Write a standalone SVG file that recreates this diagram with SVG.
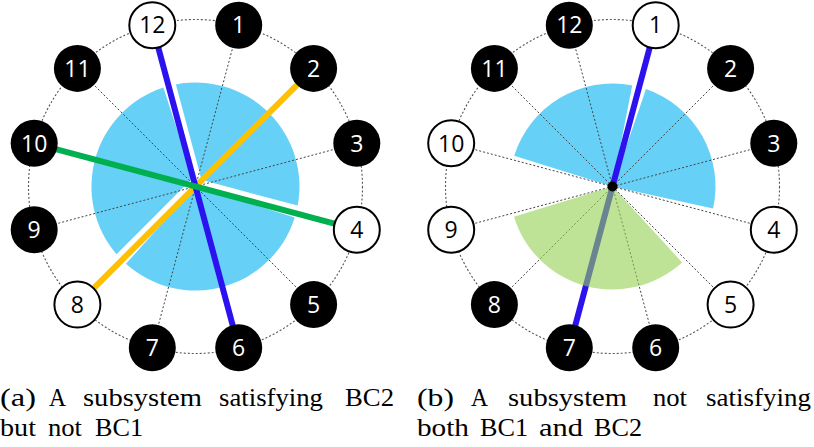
<svg xmlns="http://www.w3.org/2000/svg" width="814" height="447" viewBox="0 0 814 447">
<style>
.ring{fill:none;stroke:#555;stroke-width:1.1;stroke-dasharray:2 2}
.spoke{stroke:#444;stroke-width:1;stroke-dasharray:2 2}
.sky{fill:#00b0f0;fill-opacity:0.6}
.lg{fill:#92d050;fill-opacity:0.6}
.ln{stroke-width:6;fill:none}
.blue{stroke:#2d12f0}
.gold{stroke:#ffc000}
.grn{stroke:#00b050}
.nb circle{fill:#000}
.nw circle{fill:#fff;stroke:#000;stroke-width:2}
.nb text,.nw text{font-family:"Open Sans","Noto Sans",sans-serif;font-size:23px;text-anchor:middle}
.nb text{fill:#fff}
.nw text{fill:#000}
.cap{font-family:"Liberation Serif","Times New Roman",serif;font-size:26px;fill:#000}
</style>

<!-- Left diagram: sectors -->
<g id="left-sectors">
<path class="sky" d="M201.5,179.8 L175.9,84.4 A104,104 0 0 1 297.7,205.6 Z"/>
<path class="sky" d="M195.5,186.5 L294.7,217.6 A104,104 0 0 1 125.9,263.8 Z"/>
<path class="sky" d="M192.7,178.0 L116.5,254.2 A104,104 0 0 1 163.4,87.6 Z"/>
</g>

<!-- Right diagram: blue sectors -->
<g id="right-sectors">
<path class="sky" d="M612.5,186.5 L514.2,155.7 A103,103 0 0 1 632.2,85.4 Z"/>
<path class="sky" d="M612.5,186.5 L646.0,89.1 A103,103 0 0 1 713.1,208.6 Z"/>
</g>

<g id="connectors">
<!-- rings -->
<circle class="ring" cx="195.5" cy="186.5" r="167"/>
<circle class="ring" cx="612.5" cy="186.5" r="167"/>
<!-- left spokes -->
<g transform="translate(195.5,186.5)">
<line class="spoke" x1="0" y1="0" x2="-43.2" y2="-161.3"/>
<line class="spoke" x1="0" y1="0" x2="43.2" y2="-161.3"/>
<line class="spoke" x1="0" y1="0" x2="118.1" y2="-118.1"/>
<line class="spoke" x1="0" y1="0" x2="161.3" y2="-43.2"/>
<line class="spoke" x1="0" y1="0" x2="161.3" y2="43.2"/>
<line class="spoke" x1="0" y1="0" x2="118.1" y2="118.1"/>
<line class="spoke" x1="0" y1="0" x2="43.2" y2="161.3"/>
<line class="spoke" x1="0" y1="0" x2="-43.2" y2="161.3"/>
<line class="spoke" x1="0" y1="0" x2="-118.1" y2="118.1"/>
<line class="spoke" x1="0" y1="0" x2="-161.3" y2="43.2"/>
<line class="spoke" x1="0" y1="0" x2="-161.3" y2="-43.2"/>
<line class="spoke" x1="0" y1="0" x2="-118.1" y2="-118.1"/>
</g>
<!-- right spokes -->
<g transform="translate(612.5,186.5)">
<line class="spoke" x1="0" y1="0" x2="-43.2" y2="-161.3"/>
<line class="spoke" x1="0" y1="0" x2="43.2" y2="-161.3"/>
<line class="spoke" x1="0" y1="0" x2="118.1" y2="-118.1"/>
<line class="spoke" x1="0" y1="0" x2="161.3" y2="-43.2"/>
<line class="spoke" x1="0" y1="0" x2="161.3" y2="43.2"/>
<line class="spoke" x1="0" y1="0" x2="118.1" y2="118.1"/>
<line class="spoke" x1="0" y1="0" x2="43.2" y2="161.3"/>
<line class="spoke" x1="0" y1="0" x2="-43.2" y2="161.3"/>
<line class="spoke" x1="0" y1="0" x2="-118.1" y2="118.1"/>
<line class="spoke" x1="0" y1="0" x2="-161.3" y2="43.2"/>
<line class="spoke" x1="0" y1="0" x2="-161.3" y2="-43.2"/>
<line class="spoke" x1="0" y1="0" x2="-118.1" y2="-118.1"/>
</g>
<!-- left coloured chords -->
<line class="ln gold" x1="313.6" y1="68.4" x2="77.4" y2="304.6"/>
<line class="ln blue" x1="152.3" y1="25.2" x2="238.7" y2="347.8"/>
<line class="ln grn" x1="34.2" y1="143.3" x2="356.8" y2="229.7"/>
<!-- right chord -->
<line class="ln blue" x1="655.7" y1="25.2" x2="569.3" y2="347.8"/>
</g>

<!-- Right diagram: green sector over the chord -->
<g id="right-green-sector">
<path class="lg" d="M612.5,186.5 L682.1,262.4 A103,103 0 0 1 514.0,216.8 Z"/>
</g>
<g id="right-center">
<circle cx="612.5" cy="186.5" r="5" fill="#000"/>
</g>

<!-- Left nodes -->
<g id="a-n12" class="nw"><circle cx="152.3" cy="25.2" r="23"/><text x="152.3" y="33.4">12</text></g>
<g id="a-n1" class="nb"><circle cx="238.7" cy="25.2" r="23.5"/><text x="238.7" y="33.4">1</text></g>
<g id="a-n2" class="nb"><circle cx="313.6" cy="68.4" r="23.5"/><text x="313.6" y="76.6">2</text></g>
<g id="a-n3" class="nb"><circle cx="356.8" cy="143.3" r="23.5"/><text x="356.8" y="151.5">3</text></g>
<g id="a-n4" class="nw"><circle cx="356.8" cy="229.7" r="23"/><text x="356.8" y="237.9">4</text></g>
<g id="a-n5" class="nb"><circle cx="313.6" cy="304.6" r="23.5"/><text x="313.6" y="312.8">5</text></g>
<g id="a-n6" class="nb"><circle cx="238.7" cy="347.8" r="23.5"/><text x="238.7" y="356">6</text></g>
<g id="a-n7" class="nb"><circle cx="152.3" cy="347.8" r="23.5"/><text x="152.3" y="356">7</text></g>
<g id="a-n8" class="nw"><circle cx="77.4" cy="304.6" r="23"/><text x="77.4" y="312.8">8</text></g>
<g id="a-n9" class="nb"><circle cx="34.2" cy="229.7" r="23.5"/><text x="34.2" y="237.9">9</text></g>
<g id="a-n10" class="nb"><circle cx="34.2" cy="143.3" r="23.5"/><text x="34.2" y="151.5">10</text></g>
<g id="a-n11" class="nb"><circle cx="77.4" cy="68.4" r="23.5"/><text x="77.4" y="76.6">11</text></g>

<!-- Right nodes -->
<g id="b-n12" class="nb"><circle cx="569.3" cy="25.2" r="23.5"/><text x="569.3" y="33.4">12</text></g>
<g id="b-n1" class="nw"><circle cx="655.7" cy="25.2" r="23"/><text x="655.7" y="33.4">1</text></g>
<g id="b-n2" class="nb"><circle cx="730.6" cy="68.4" r="23.5"/><text x="730.6" y="76.6">2</text></g>
<g id="b-n3" class="nb"><circle cx="773.8" cy="143.3" r="23.5"/><text x="773.8" y="151.5">3</text></g>
<g id="b-n4" class="nw"><circle cx="773.8" cy="229.7" r="23"/><text x="773.8" y="237.9">4</text></g>
<g id="b-n5" class="nw"><circle cx="730.6" cy="304.6" r="23"/><text x="730.6" y="312.8">5</text></g>
<g id="b-n6" class="nb"><circle cx="655.7" cy="347.8" r="23.5"/><text x="655.7" y="356">6</text></g>
<g id="b-n7" class="nb"><circle cx="569.3" cy="347.8" r="23.5"/><text x="569.3" y="356">7</text></g>
<g id="b-n8" class="nb"><circle cx="494.4" cy="304.6" r="23.5"/><text x="494.4" y="312.8">8</text></g>
<g id="b-n9" class="nw"><circle cx="451.2" cy="229.7" r="23"/><text x="451.2" y="237.9">9</text></g>
<g id="b-n10" class="nw"><circle cx="451.2" cy="143.3" r="23"/><text x="451.2" y="151.5">10</text></g>
<g id="b-n11" class="nb"><circle cx="494.4" cy="68.4" r="23.5"/><text x="494.4" y="76.6">11</text></g>

<!-- Captions -->
<g id="caption-a" class="cap">
<text x="0" y="406" textLength="36" lengthAdjust="spacingAndGlyphs">(a)</text>
<text x="49" y="406" textLength="17" lengthAdjust="spacingAndGlyphs">A</text>
<text x="83" y="406" textLength="119" lengthAdjust="spacingAndGlyphs">subsystem</text>
<text x="219" y="406" textLength="104" lengthAdjust="spacingAndGlyphs">satisfying</text>
<text x="345" y="406" textLength="49" lengthAdjust="spacingAndGlyphs">BC2</text>
<text x="0" y="436" textLength="36" lengthAdjust="spacingAndGlyphs">but</text>
<text x="48" y="436" textLength="34" lengthAdjust="spacingAndGlyphs">not</text>
<text x="95" y="436" textLength="48" lengthAdjust="spacingAndGlyphs">BC1</text>
</g>
<g id="caption-b" class="cap">
<text x="417" y="406" textLength="37" lengthAdjust="spacingAndGlyphs">(b)</text>
<text x="471" y="406" textLength="17" lengthAdjust="spacingAndGlyphs">A</text>
<text x="508" y="406" textLength="119" lengthAdjust="spacingAndGlyphs">subsystem</text>
<text x="653" y="406" textLength="34" lengthAdjust="spacingAndGlyphs">not</text>
<text x="706" y="406" textLength="105" lengthAdjust="spacingAndGlyphs">satisfying</text>
<text x="417" y="436" textLength="52" lengthAdjust="spacingAndGlyphs">both</text>
<text x="480" y="436" textLength="48" lengthAdjust="spacingAndGlyphs">BC1</text>
<text x="539" y="436" textLength="44" lengthAdjust="spacingAndGlyphs">and</text>
<text x="594" y="436" textLength="48" lengthAdjust="spacingAndGlyphs">BC2</text>
</g>
</svg>
